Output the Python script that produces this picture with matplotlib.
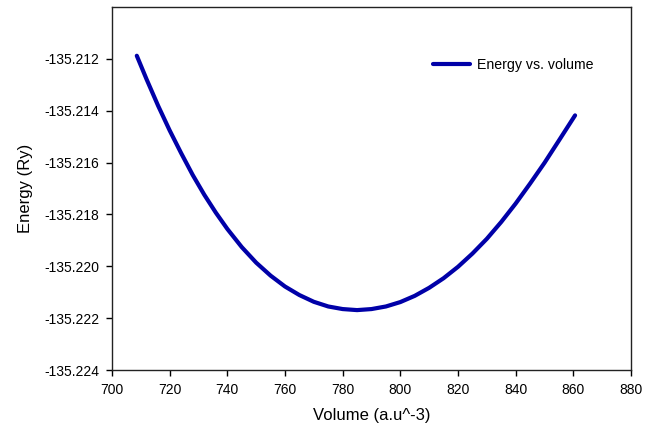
import matplotlib
matplotlib.use("Agg")
import matplotlib.pyplot as plt
from matplotlib.ticker import FormatStrFormatter

plt.rcParams['font.family'] = ['Liberation Sans', 'DejaVu Sans']

volume = [708.6, 712, 716, 720, 724, 728, 732, 736, 740, 745, 750, 755, 760,
          765, 770, 775, 780, 785, 790, 795, 800, 805, 810, 815, 820, 825,
          830, 835, 840, 845, 850, 855, 860.6]
energy = [-135.21188, -135.21279, -135.21381, -135.21476, -135.21564,
          -135.21648, -135.21724, -135.21793, -135.21856, -135.21926,
          -135.21986, -135.22036, -135.22078, -135.22111, -135.22137,
          -135.22155, -135.22165, -135.22169, -135.22165, -135.22155,
          -135.22138, -135.22114, -135.22083, -135.22046, -135.22002,
          -135.21951, -135.21894, -135.21829, -135.21758, -135.21681,
          -135.21601, -135.21515, -135.21418]
series_label = "Energy vs. volume"
xticks = [700, 720, 740, 760, 780, 800, 820, 840, 860, 880]
yticks = [-135.224, -135.222, -135.220, -135.218, -135.216, -135.214, -135.212]

fig = plt.figure(figsize=(6.56, 4.33), dpi=100)
ax = fig.add_axes([112/656, 1-370/433, (631-112)/656, (370-7)/433])

ax.plot(volume, energy, color='#0000A8', lw=3.0, solid_capstyle='round',
        solid_joinstyle='round', label=series_label)

ax.set_xlim(700, 880)
ax.set_ylim(-135.224, -135.210)
ax.set_xticks(xticks)
ax.set_yticks(yticks)
ax.yaxis.set_major_formatter(FormatStrFormatter('%.3f'))
ax.tick_params(direction='out', length=4, width=1, labelsize=10, pad=5,
               top=False, right=False)
for s in ax.spines.values():
    s.set_linewidth(1.0)
    s.set_color('#222222')

ax.set_xlabel("Volume (a.u^-3)", fontsize=12, labelpad=8)
ax.set_ylabel("Energy (Ry)", fontsize=12, labelpad=8)

leg = ax.legend(loc='center left', bbox_to_anchor=(0.618, 0.84), frameon=False,
                fontsize=10.2, handlelength=2.6, handletextpad=0.5,
                borderpad=0, borderaxespad=0)

fig.savefig("out.png", dpi=100)
